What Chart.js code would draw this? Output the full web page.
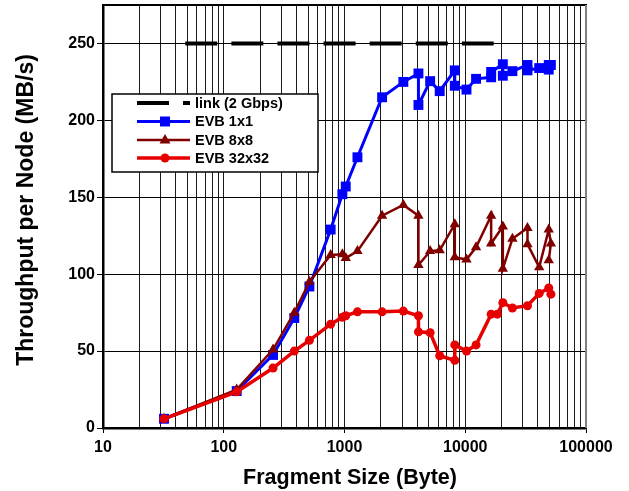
<!DOCTYPE html>
<html>
<head>
<meta charset="utf-8">
<script src="https://cdn.jsdelivr.net/npm/chart.js@4.4.1/dist/chart.umd.min.js"></script>
<style>
  html, body { margin: 0; padding: 0; background: #fff; }
  #wrap { width: 629px; height: 491px; }
</style>
</head>
<body>
<div id="wrap"><canvas id="c" width="629" height="491"></canvas></div>
<script>
// ---- Data ----
const linkSize = [48, 17200];
const linkThru = [250, 250];

const evb1Size = [32,128,256,384,512,768,960,1024,1280,2048,3072,4096,4096,5120,6144,8192,8192,10240,12288,16384,16384,20480,20480,24576,32768,32768,40960,49152,51200,49152];
const evb1Thru = [6,24,47.5,71.5,92,129,152,157,176,215,225,230.5,210,225.5,219,232.5,222.5,220,227,228,231.5,236.5,229,232,236,232.5,234,236,236,233];

const evb8Size = [32,128,256,384,512,768,960,1024,1280,2048,3072,4096,4096,5120,6144,8192,8192,10240,12288,16384,16384,20480,20480,24576,32768,32768,40960,49152,51200,49152];
const evb8Thru = [6,25,51,75,95,112.5,113,110.5,115,138,145,138,106,115,115.5,132.5,111,109.5,117.5,138,120,131,103.5,123,130,119.5,104.5,129,120,109];

const evb32Size = [32,128,256,384,512,768,960,1024,1280,2048,3072,4096,4096,5120,6144,8192,8192,10240,12288,16384,18432,20480,24576,32768,40960,49152,51200];
const evb32Thru = [6,23.5,39,50,57,67.5,72,73,75.5,75.5,76,73,62.5,62,47,44,54,50,54,74,74,81.5,78,79.5,87.5,91,87];

const xDecades = [10, 100, 1000, 10000];
const xMultipliers = [1,2,3,4,5,6,7,8,9];
const xMax = 100000;
const yTicks = [0, 50, 100, 150, 200, 250];
const yMax = 275;

const legendLabels = ['link (2 Gbps)', 'EVB 1x1', 'EVB 8x8', 'EVB 32x32'];
const xTitle = 'Fragment Size (Byte)';
const yTitle = 'Throughput per Node (MB/s)';

// ---- Build ----
const pts = (xs, ys) => xs.map((x, i) => ({x: x, y: ys[i]}));
const xTickValues = [];
xDecades.forEach(d => xMultipliers.forEach(m => xTickValues.push(d * m)));
xTickValues.push(xMax);
const isPow10 = v => Math.abs(Math.log10(v) - Math.round(Math.log10(v))) < 1e-9;

const FONT = '"Liberation Sans", Arial, sans-serif';
const BLUE = '#0000FF', BROWN = '#800000', RED = '#E60000';

const overlay = {
  id: 'overlay',
  afterDraw(chart) {
    const ctx = chart.ctx;
    const a = chart.chartArea;
    ctx.save();
    // top and right frame
    ctx.lineWidth = 2;
    ctx.strokeStyle = '#000';
    ctx.beginPath(); ctx.moveTo(a.left, a.top); ctx.lineTo(a.right + 1, a.top); ctx.stroke();
    ctx.strokeStyle = '#808080';
    ctx.beginPath(); ctx.moveTo(a.right, a.top); ctx.lineTo(a.right, a.bottom); ctx.stroke();

    // axis titles
    ctx.fillStyle = '#000';
    ctx.font = 'bold 21.5px ' + FONT;
    ctx.textAlign = 'center';
    ctx.textBaseline = 'alphabetic';
    ctx.fillText(xTitle, 350, 484);
    ctx.save();
    ctx.translate(33, 210);
    ctx.rotate(-Math.PI / 2);
    ctx.font = 'bold 23px ' + FONT;
    ctx.fillText(yTitle, 0, 0);
    ctx.restore();

    // legend
    const bx = 112, by = 94, bw = 206, bh = 78;
    ctx.fillStyle = '#fff';
    ctx.fillRect(bx, by, bw, bh);
    ctx.lineWidth = 1.5;
    ctx.strokeStyle = '#000';
    ctx.strokeRect(bx, by, bw, bh);
    const rows = [103, 121.5, 140, 158];
    const x0 = 137, x1 = 190, xm = 165;
    // link
    ctx.lineWidth = 4;
    ctx.strokeStyle = '#000';
    ctx.setLineDash([32, 14]);
    ctx.beginPath(); ctx.moveTo(x0, rows[0]); ctx.lineTo(x1, rows[0]); ctx.stroke();
    ctx.setLineDash([]);
    // blue
    ctx.lineWidth = 3; ctx.strokeStyle = BLUE;
    ctx.beginPath(); ctx.moveTo(x0, rows[1]); ctx.lineTo(x1, rows[1]); ctx.stroke();
    ctx.fillStyle = BLUE; ctx.fillRect(xm - 5, rows[1] - 5, 10, 10);
    // brown
    ctx.lineWidth = 2.5; ctx.strokeStyle = BROWN;
    ctx.beginPath(); ctx.moveTo(x0, rows[2]); ctx.lineTo(x1, rows[2]); ctx.stroke();
    ctx.fillStyle = BROWN;
    ctx.beginPath(); ctx.moveTo(xm, rows[2] - 6); ctx.lineTo(xm + 5.5, rows[2] + 3.5); ctx.lineTo(xm - 5.5, rows[2] + 3.5); ctx.closePath(); ctx.fill();
    // red
    ctx.lineWidth = 3.5; ctx.strokeStyle = RED;
    ctx.beginPath(); ctx.moveTo(x0, rows[3]); ctx.lineTo(x1, rows[3]); ctx.stroke();
    ctx.fillStyle = RED;
    ctx.beginPath(); ctx.arc(xm, rows[3], 4.5, 0, Math.PI * 2); ctx.fill();
    // texts
    ctx.fillStyle = '#000';
    ctx.font = 'bold 14.5px ' + FONT;
    ctx.textAlign = 'left';
    ctx.textBaseline = 'middle';
    legendLabels.forEach((t, i) => ctx.fillText(t, 195, rows[i] + 0.5));
    ctx.restore();
  }
};

new Chart(document.getElementById('c'), {
  type: 'line',
  data: {
    datasets: [
      { label: legendLabels[3], data: pts(evb32Size, evb32Thru), borderColor: RED, backgroundColor: RED,
        borderWidth: 3.5, pointStyle: 'circle', pointRadius: 4.5, pointBorderWidth: 0, order: 0 },
      { label: legendLabels[2], data: pts(evb8Size, evb8Thru), borderColor: BROWN, backgroundColor: BROWN,
        borderWidth: 2.5, pointStyle: 'triangle', pointRadius: 6, pointBorderWidth: 0, order: 1 },
      { label: legendLabels[1], data: pts(evb1Size, evb1Thru), borderColor: BLUE, backgroundColor: BLUE,
        borderWidth: 3, pointStyle: 'rect', pointRadius: 7, pointBorderWidth: 0, order: 2 },
      { label: legendLabels[0], data: pts(linkSize, linkThru), borderColor: '#000',
        borderWidth: 4, borderDash: [32, 14.1], pointRadius: 0, order: 3 }
    ]
  },
  options: {
    responsive: false,
    animation: false,
    devicePixelRatio: 1,
    layout: { autoPadding: false, padding: { top: 5, right: 43, left: 0, bottom: 0 } },
    plugins: { legend: { display: false }, tooltip: { enabled: false } },
    elements: { line: { tension: 0 } },
    scales: {
      x: {
        type: 'logarithmic',
        min: 10, max: xMax,
        afterBuildTicks: s => { s.ticks = xTickValues.map(v => ({ value: v })); },
        afterFit: s => { s.height = 63; s.paddingLeft = 0; s.paddingRight = 0; },
        ticks: {
          autoSkip: false, maxRotation: 0, padding: 5, color: '#000',
          font: { family: FONT, size: 16, weight: 'bold' },
          callback: v => isPow10(v) ? String(v) : ''
        },
        grid: {
          color: '#1a1a1a', lineWidth: 1, tickLength: 5,
          tickColor: c => (c.tick && isPow10(c.tick.value)) ? '#000' : 'rgba(0,0,0,0)'
        },
        border: { display: true, color: '#000', width: 2.5 }
      },
      y: {
        type: 'linear',
        min: 0, max: yMax,
        afterBuildTicks: s => { s.ticks = yTicks.map(v => ({ value: v })); },
        afterFit: s => { s.width = 103; s.paddingTop = 0; s.paddingBottom = 0; },
        ticks: {
          padding: 2, color: '#000',
          font: { family: FONT, size: 16, weight: 'bold' }
        },
        grid: { color: '#000', lineWidth: 1, tickLength: 6, tickColor: '#000' },
        border: { display: true, color: '#000', width: 2.5 }
      }
    }
  },
  plugins: [overlay]
});
</script>
</body>
</html>
